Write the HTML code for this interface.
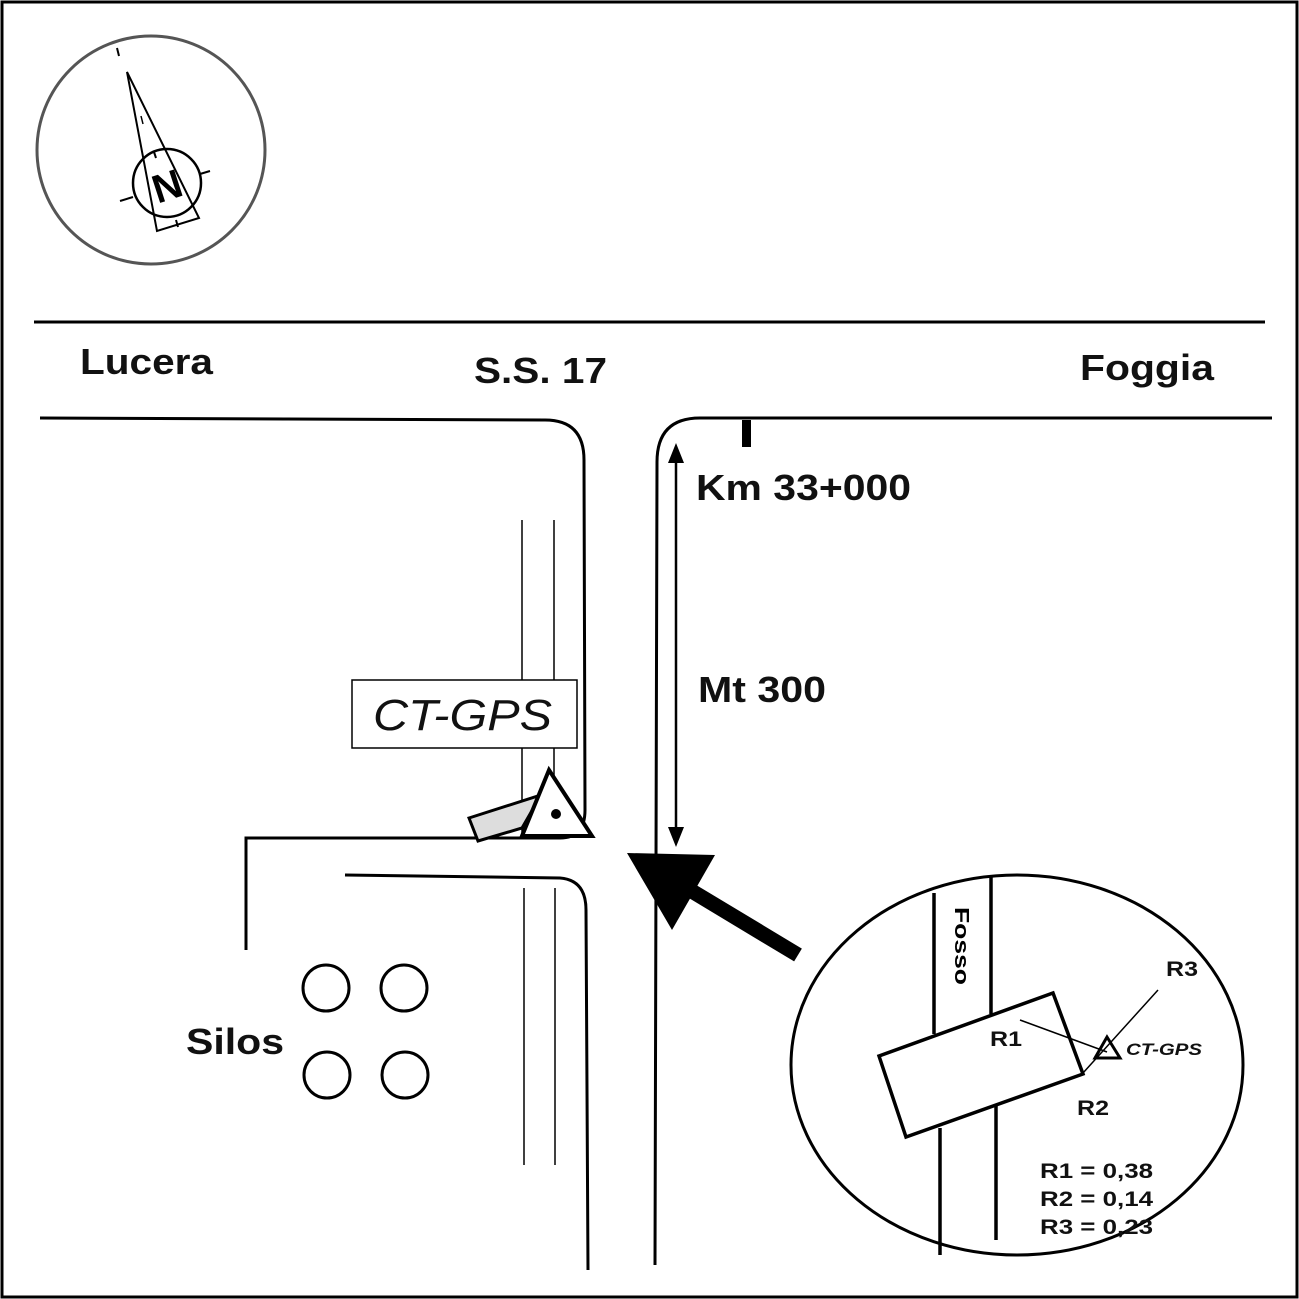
<!DOCTYPE html>
<html><head><style>html,body{margin:0;padding:0;background:#fff}svg{display:block}</style></head><body>
<svg width="1299" height="1299" viewBox="0 0 1299 1299" xmlns="http://www.w3.org/2000/svg" font-family="Liberation Sans, Arial, sans-serif">
<rect x="2" y="2" width="1295" height="1295" fill="#fff" stroke="#000" stroke-width="3"/>
<!-- compass -->
<circle cx="151" cy="150" r="114" fill="none" stroke="#555" stroke-width="3"/>
<polygon points="127,72 157,231 199,218" fill="none" stroke="#000" stroke-width="2"/>
<circle cx="167" cy="183" r="34" fill="none" stroke="#000" stroke-width="2.5"/>
<line x1="117" y1="48" x2="119" y2="56" stroke="#000" stroke-width="2"/>
<line x1="141" y1="116" x2="143" y2="124" stroke="#000" stroke-width="1.5"/>
<line x1="120" y1="201" x2="133" y2="197" stroke="#000" stroke-width="2"/>
<line x1="200" y1="174" x2="210" y2="171" stroke="#000" stroke-width="2"/>
<line x1="154" y1="152" x2="156" y2="158" stroke="#000" stroke-width="2"/>
<line x1="176" y1="220" x2="178" y2="227" stroke="#000" stroke-width="2"/>
<text x="167" y="200" font-size="40" font-weight="bold" text-anchor="middle" transform="rotate(-18 167 186)">N</text>
<!-- roads -->
<g fill="none" stroke="#000" stroke-width="3">
<line x1="34" y1="322" x2="1265" y2="322"/>
<path d="M40,418 L545,420 Q584,420 584,460 L585,810 Q585,838 560,838 L246,838 L246,950"/>
<path d="M345,875 L560,878 Q586,880 586,910 L588,1270"/>
<path d="M1272,418 L700,418 Q657,418 657,462 L655,1265"/>
</g>
<rect x="742" y="420" width="9" height="27" fill="#000"/>
<g stroke="#000" stroke-width="1.5">
<line x1="522" y1="520" x2="522" y2="838"/><line x1="554" y1="520" x2="554" y2="790"/>
<line x1="524" y1="888" x2="524" y2="1165"/><line x1="555" y1="888" x2="555" y2="1165"/>
</g>
<!-- double arrow -->
<line x1="676" y1="455" x2="676" y2="835" stroke="#000" stroke-width="2.5"/>
<polygon points="676,443 668,463 684,463" fill="#000"/>
<polygon points="676,847 668,827 684,827" fill="#000"/>
<!-- big arrow -->
<line x1="690" y1="890" x2="798" y2="955" stroke="#000" stroke-width="15"/>
<polygon points="627,853 715,855 672,930" fill="#000"/>
<!-- labels -->
<g font-weight="bold" font-size="36" fill="#111">
<text x="80" y="374" textLength="133" lengthAdjust="spacingAndGlyphs">Lucera</text>
<text x="474" y="383" textLength="133" lengthAdjust="spacingAndGlyphs">S.S. 17</text>
<text x="1080" y="380" textLength="134" lengthAdjust="spacingAndGlyphs">Foggia</text>
<text x="696" y="500" textLength="215" lengthAdjust="spacingAndGlyphs">Km 33+000</text>
<text x="698" y="702" textLength="128" lengthAdjust="spacingAndGlyphs">Mt 300</text>
<text x="186" y="1054" textLength="98" lengthAdjust="spacingAndGlyphs">Silos</text>
</g>
<rect x="352" y="680" width="225" height="68" fill="#fff" stroke="#000" stroke-width="1.5"/>
<text x="373" y="730" font-size="44" font-style="italic" fill="#111" textLength="179" lengthAdjust="spacingAndGlyphs">CT-GPS</text>
<polygon points="469,818 541,795 522,828 478,841" fill="#ddd" stroke="#000" stroke-width="3"/>
<polygon points="549,770 592,836 522,836" fill="#fff" stroke="#000" stroke-width="4"/>
<circle cx="556" cy="814" r="5" fill="#000"/>
<!-- silos -->
<g fill="none" stroke="#000" stroke-width="3">
<circle cx="326" cy="988" r="23"/><circle cx="404" cy="988" r="23"/>
<circle cx="327" cy="1075" r="23"/><circle cx="405" cy="1075" r="23"/>
</g>
<!-- inset -->
<ellipse cx="1017" cy="1065" rx="226" ry="190" fill="none" stroke="#000" stroke-width="3"/>
<g stroke="#000" stroke-width="3.5">
<line x1="934" y1="893" x2="934" y2="1034"/><line x1="991" y1="876" x2="991" y2="1014"/>
<line x1="940" y1="1128" x2="940" y2="1255"/><line x1="996" y1="1106" x2="996" y2="1240"/>
</g>
<polygon points="879,1056 1053,993 1083,1074 906,1137" fill="none" stroke="#000" stroke-width="3.5"/>
<g stroke="#000" stroke-width="1.5">
<line x1="1020" y1="1020" x2="1107" y2="1052"/><line x1="1158" y1="990" x2="1083" y2="1073"/>
</g>
<polygon points="1107,1037 1095,1058 1120,1058" fill="none" stroke="#000" stroke-width="3"/>
<text x="0" y="7" font-size="20" font-weight="bold" text-anchor="middle" transform="translate(962,946) rotate(90)" textLength="78" lengthAdjust="spacingAndGlyphs">Fosso</text>
<g font-weight="bold" font-size="21" fill="#111">
<text x="1166" y="976" textLength="32" lengthAdjust="spacingAndGlyphs">R3</text>
<text x="990" y="1046" textLength="32" lengthAdjust="spacingAndGlyphs">R1</text>
<text x="1077" y="1115" textLength="32" lengthAdjust="spacingAndGlyphs">R2</text>
<text x="1040" y="1178" textLength="113" lengthAdjust="spacingAndGlyphs">R1 = 0,38</text>
<text x="1040" y="1206" textLength="113" lengthAdjust="spacingAndGlyphs">R2 = 0,14</text>
<text x="1040" y="1234" textLength="113" lengthAdjust="spacingAndGlyphs">R3 = 0,23</text>
</g>
<text x="1126" y="1055" font-size="17" font-weight="bold" font-style="italic" fill="#111" textLength="76" lengthAdjust="spacingAndGlyphs">CT-GPS</text>
</svg>
</body></html>
